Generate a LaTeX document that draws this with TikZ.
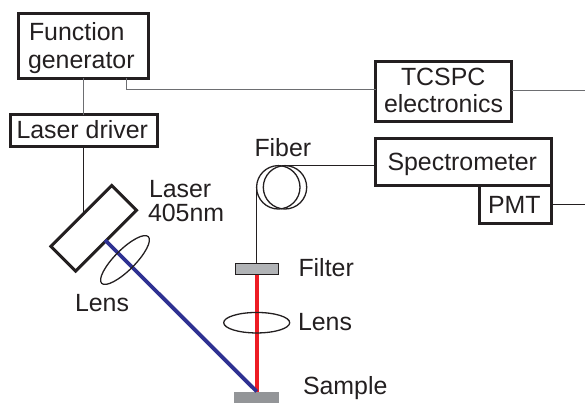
\documentclass[tikz,border=0pt]{standalone}
\usepackage{fontspec}
\setmainfont{Liberation Sans}
\usetikzlibrary{shapes.geometric}
\definecolor{ink}{HTML}{231F20}
\definecolor{wire}{HTML}{6D6E71}
\definecolor{beamblue}{HTML}{2E3192}
\definecolor{beamred}{HTML}{ED1C24}
\definecolor{filtergray}{HTML}{B1B3B6}
\definecolor{samplegray}{HTML}{939598}
\tikzset{
  x=1bp,y=-1bp,
  lab/.style={anchor=base west,inner sep=0pt,outer sep=0pt,text=ink,font=\fontsize{24.9bp}{28bp}\selectfont},
  boxnode/.style={draw=ink,line width=3bp,inner sep=0pt,outer sep=0pt,anchor=north west},
  lensnode/.style={draw=ink,line width=1.3bp,ellipse,inner sep=0pt,outer sep=0pt,minimum width=66bp,minimum height=20.5bp},
  wireline/.style={line width=1.2bp,draw=ink},
  greyline/.style={line width=1.2bp,draw=wire},
  fibre/.style={line width=1.3bp,draw=ink}
}
\begin{document}
\begin{tikzpicture}
\useasboundingbox (0,0) rectangle (585,403);
% boxes
\node[boxnode,minimum width=130bp,minimum height=64.5bp] (fg) at (18,13.5) {};
\node[boxnode,minimum width=147bp,minimum height=32bp] (ld) at (10.5,114.5) {};
\node[boxnode,minimum width=136bp,minimum height=60bp] (tc) at (375.5,61) {};
\node[boxnode,minimum width=176bp,minimum height=47bp] (sp) at (375.5,138.5) {};
\node[boxnode,minimum width=72.5bp,minimum height=37.5bp,anchor=north east] (pmt) at (sp.south east) {};
\node[draw=ink,line width=3bp,rotate=45,minimum width=86bp,minimum height=35bp,inner sep=0pt] (laser) at (93.7,228.3) {};
% free ends
\coordinate (tcOut) at (585,90.7);
\coordinate (pmtOut) at (585,204.5);
\coordinate (laserIn) at (83.3,212);
\coordinate (blueStart) at (105,240);
\coordinate (beamEnd) at (256.7,391.5);
\coordinate (fgBend) at (126.7,89.2);
\coordinate (fiberTop) at (283,165.7);
\coordinate (fiberLeft) at (256.7,187.3);
% filter and sample
\node[draw=ink,line width=0.9bp,fill=filtergray,minimum width=43bp,minimum height=10.5bp,inner sep=0pt] (filter) at (256.7,268.8) {};
\node[fill=samplegray,minimum width=44.7bp,minimum height=11bp,inner sep=0pt] (sample) at (256.7,397.2) {};
% connectors
\draw[greyline] (fg.south -| 83.3,0) -- (ld.north -| 83.3,0);
\draw[wireline] (ld.south -| 83.3,0) -- (laserIn);
\draw[greyline] (fg.south -| fgBend) -- (fgBend) -- (fgBend -| tc.west);
\draw[greyline] (tc.east |- tcOut) -- (tcOut);
\draw[wireline] (pmt.east |- pmtOut) -- (pmtOut);
% beams
\draw[beamred,line width=4bp] (filter.south) -- (beamEnd);
\draw[beamblue,line width=3.8bp] (blueStart) -- (beamEnd);
% lenses
\node[lensnode,rotate=45] (lens1) at (125,260) {};
\node[lensnode] (lens2) at (256.7,322.7) {};
% fibre
\draw[fibre] (278.3,187.3) circle[radius=21.7];
\draw[fibre] (285,187.3) circle[radius=21.7];
\draw[fibre] (fiberTop) -- (fiberTop -| sp.west);
\draw[fibre] (fiberLeft) -- (filter.north);
% labels
\node[lab] (t1) at (29,40) {Function};
\node[lab] (t2) at (28,68) {generator};
\node[lab] (t3) at (16.5,138) {Laser driver};
\node[lab] (t4) at (149,197) {Laser};
\node[lab] (t5) at (148,221.7) {405nm};
\node[lab] (t6) at (75,311.7) {Lens};
\node[lab] (t7) at (254.5,156.7) {Fiber};
\node[lab] (t8) at (298.5,276.7) {Filter};
\node[lab] (t9) at (298,330.7) {Lens};
\node[lab] (t10) at (303,394) {Sample};
\node[lab] (t11) at (401,85) {TCSPC};
\node[lab] (t12) at (384,112.7) {electronics};
\node[lab] (t13) at (387.5,170.7) {Spectrometer};
\node[lab] (t14) at (488,213.3) {PMT};
\end{tikzpicture}
\end{document}
